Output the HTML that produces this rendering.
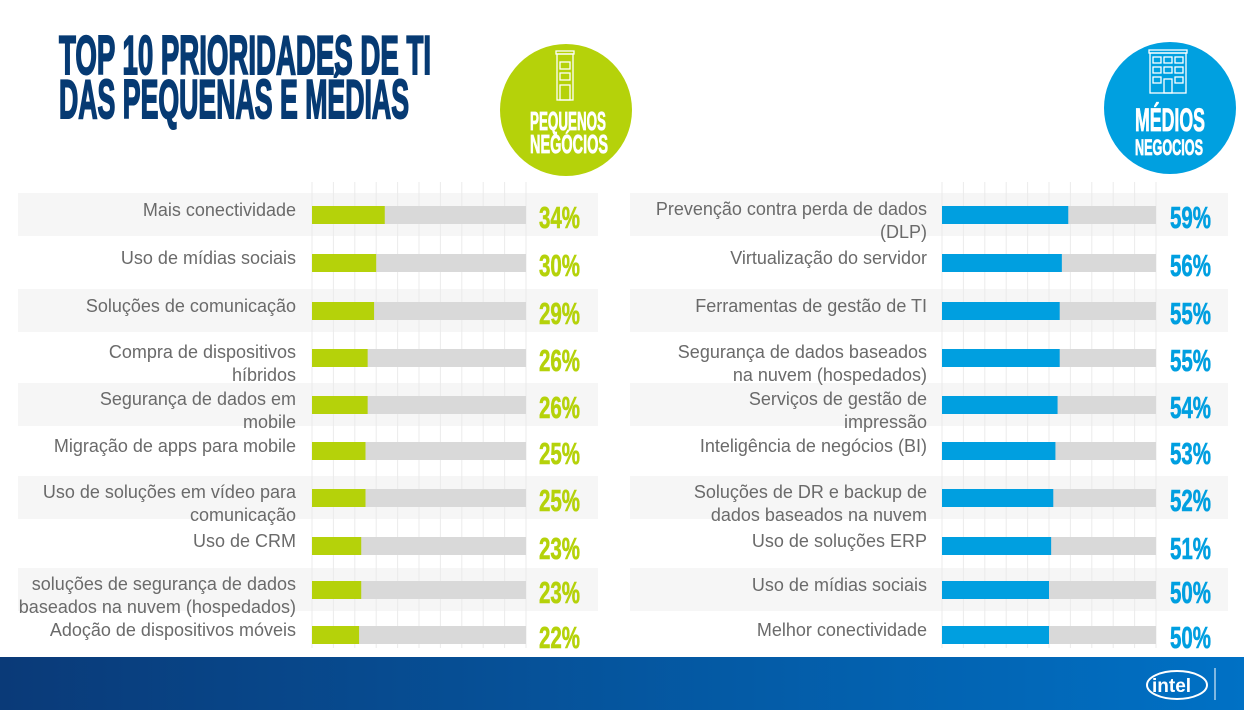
<!DOCTYPE html>
<html><head><meta charset="utf-8"><style>
body{margin:0;width:1244px;height:710px;overflow:hidden;background:#fff;font-family:"Liberation Sans",sans-serif}
</style></head><body>
<svg id="chart" width="1244" height="710" viewBox="0 0 1244 710" xmlns="http://www.w3.org/2000/svg">
<defs><linearGradient id="fg" x1="0" x2="1"><stop offset="0" stop-color="#0a3a78"/><stop offset="1" stop-color="#0071c5"/></linearGradient></defs>
<g fill="#063a73" stroke="#063a73" stroke-width="2" font-family="'Liberation Sans Narrow','Liberation Sans',sans-serif" font-weight="bold">
<text x="59" y="74" font-size="55" textLength="372" lengthAdjust="spacingAndGlyphs">TOP 10 PRIORIDADES DE TI</text>
<text x="59" y="118" font-size="55" textLength="350" lengthAdjust="spacingAndGlyphs">DAS PEQUENAS E MÉDIAS</text>
</g>
<g>
<circle cx="566" cy="110" r="66" fill="#b5d20a"/>
<g fill="none" stroke="#fff" stroke-width="1.3"><rect x="557" y="54" width="16" height="46"/><rect x="556" y="51" width="18" height="3"/><rect x="560" y="62" width="10" height="7"/><rect x="560" y="73" width="10" height="7"/><rect x="560" y="85" width="10" height="15"/></g>
<g fill="#fff" stroke="#fff" stroke-width="0.8" font-family="'Liberation Sans Narrow','Liberation Sans',sans-serif" font-weight="bold" font-size="26"><text x="530" y="130" textLength="76" lengthAdjust="spacingAndGlyphs">PEQUENOS</text><text x="530" y="153" textLength="78" lengthAdjust="spacingAndGlyphs">NEGÓCIOS</text></g>
</g>
<g>
<circle cx="1170" cy="108" r="66" fill="#00a0e0"/>
<g fill="none" stroke="#fff" stroke-width="1.3"><rect x="1150" y="53" width="36" height="40"/><rect x="1149" y="50" width="38" height="3"/>
<rect x="1153" y="57" width="8" height="6"/><rect x="1164" y="57" width="8" height="6"/><rect x="1175" y="57" width="8" height="6"/>
<rect x="1153" y="67" width="8" height="6"/><rect x="1164" y="67" width="8" height="6"/><rect x="1175" y="67" width="8" height="6"/>
<rect x="1153" y="77" width="8" height="6"/><rect x="1164" y="79" width="8" height="14"/><rect x="1175" y="77" width="8" height="6"/></g>
<g fill="#fff" stroke="#fff" stroke-width="0.8" font-family="'Liberation Sans Narrow','Liberation Sans',sans-serif" font-weight="bold"><text x="1135" y="131" font-size="32" textLength="70" lengthAdjust="spacingAndGlyphs">MÉDIOS</text><text x="1135" y="155" font-size="22" textLength="68" lengthAdjust="spacingAndGlyphs">NEGOCIOS</text></g>
</g>
<g id="left"></g>
<g id="right"></g>
<g>
<rect x="0" y="657" width="1244" height="53" fill="url(#fg)"/>
<ellipse cx="1177" cy="685" rx="30" ry="14" fill="none" stroke="#fff" stroke-width="2"/>
<text x="1152" y="692" fill="#fff" font-size="19" font-weight="bold">intel</text>
<line x1="1215" y1="668" x2="1215" y2="700" stroke="#fff" stroke-width="1"/>
</g>
</svg>
<script>
const leftCats=[["Mais conectividade"],["Uso de mídias sociais"],["Soluções de comunicação"],["Compra de dispositivos","híbridos"],["Segurança de dados em","mobile"],["Migração de apps para mobile"],["Uso de soluções em vídeo para","comunicação"],["Uso de CRM"],["soluções de segurança de dados","baseados na nuvem (hospedados)"],["Adoção de dispositivos móveis"]];
const leftVals=[34,30,29,26,26,25,25,23,23,22];
const rightCats=[["Prevenção contra perda de dados","(DLP)"],["Virtualização do servidor"],["Ferramentas de gestão de TI"],["Segurança de dados baseados","na nuvem (hospedados)"],["Serviços de gestão de","impressão"],["Inteligência de negócios (BI)"],["Soluções de DR e backup de","dados baseados na nuvem"],["Uso de soluções ERP"],["Uso de mídias sociais"],["Melhor conectividade"]];
const rightVals=[59,56,55,55,54,53,52,51,50,50];
const rowY=[215,263,311,358,405,451,498,546,590,635];
const NS="http://www.w3.org/2000/svg";
function mk(t,a,p){const e=document.createElementNS(NS,t);for(const k in a)e.setAttribute(k,a[k]);p.appendChild(e);return e;}
function draw(g,cats,vals,o){
  const x=v=>o.x0+v/100*214;
  cats.forEach((c,i)=>{if(i%2==0){const r=mk('rect',{x:o.bx,y:rowY[i]-22,width:o.bw,height:43,fill:'#f6f6f6'},g);

}});
  for(let k=0;k<=10;k++){const l=mk('line',{x1:x(k*10),x2:x(k*10),y1:182,y2:648,stroke:'#ebebeb','stroke-width':1},g);

}
  cats.forEach((c,i)=>{
    const y=rowY[i];
    const tr=mk('rect',{x:x(0),y:y-9,width:214,height:18,fill:'#d9d9d9'},g);
    
    
    const b=mk('rect',{x:x(0),y:y-9,width:x(vals[i])-x(0),height:18,fill:o.col},g);
    
    
    const t=mk('text',{x:o.lx,'text-anchor':'end',fill:'#6a6a6a','font-size':18},g);
    
    
    const y0=c.length>1?y-0:y+1;
    c.forEach((s,j)=>{const ts=mk('tspan',{x:o.lx,y:y0+j*23},t);ts.textContent=s;});
    const v=mk('text',{x:o.vx,y:y+13,fill:o.col,stroke:o.col,'stroke-width':0.6,'font-size':31,'font-weight':'bold','font-family':"'Liberation Sans Narrow','Liberation Sans',sans-serif",textLength:41,lengthAdjust:'spacingAndGlyphs'},g);
    
    
    v.textContent=vals[i]+'%';
  });
}
draw(document.getElementById('left'),leftCats,leftVals,{x0:312,bx:18,bw:580,col:'#b5d20a',lx:296,vx:539});
draw(document.getElementById('right'),rightCats,rightVals,{x0:942,bx:630,bw:598,col:'#009fe0',lx:927,vx:1170});
</script>
</body></html>
